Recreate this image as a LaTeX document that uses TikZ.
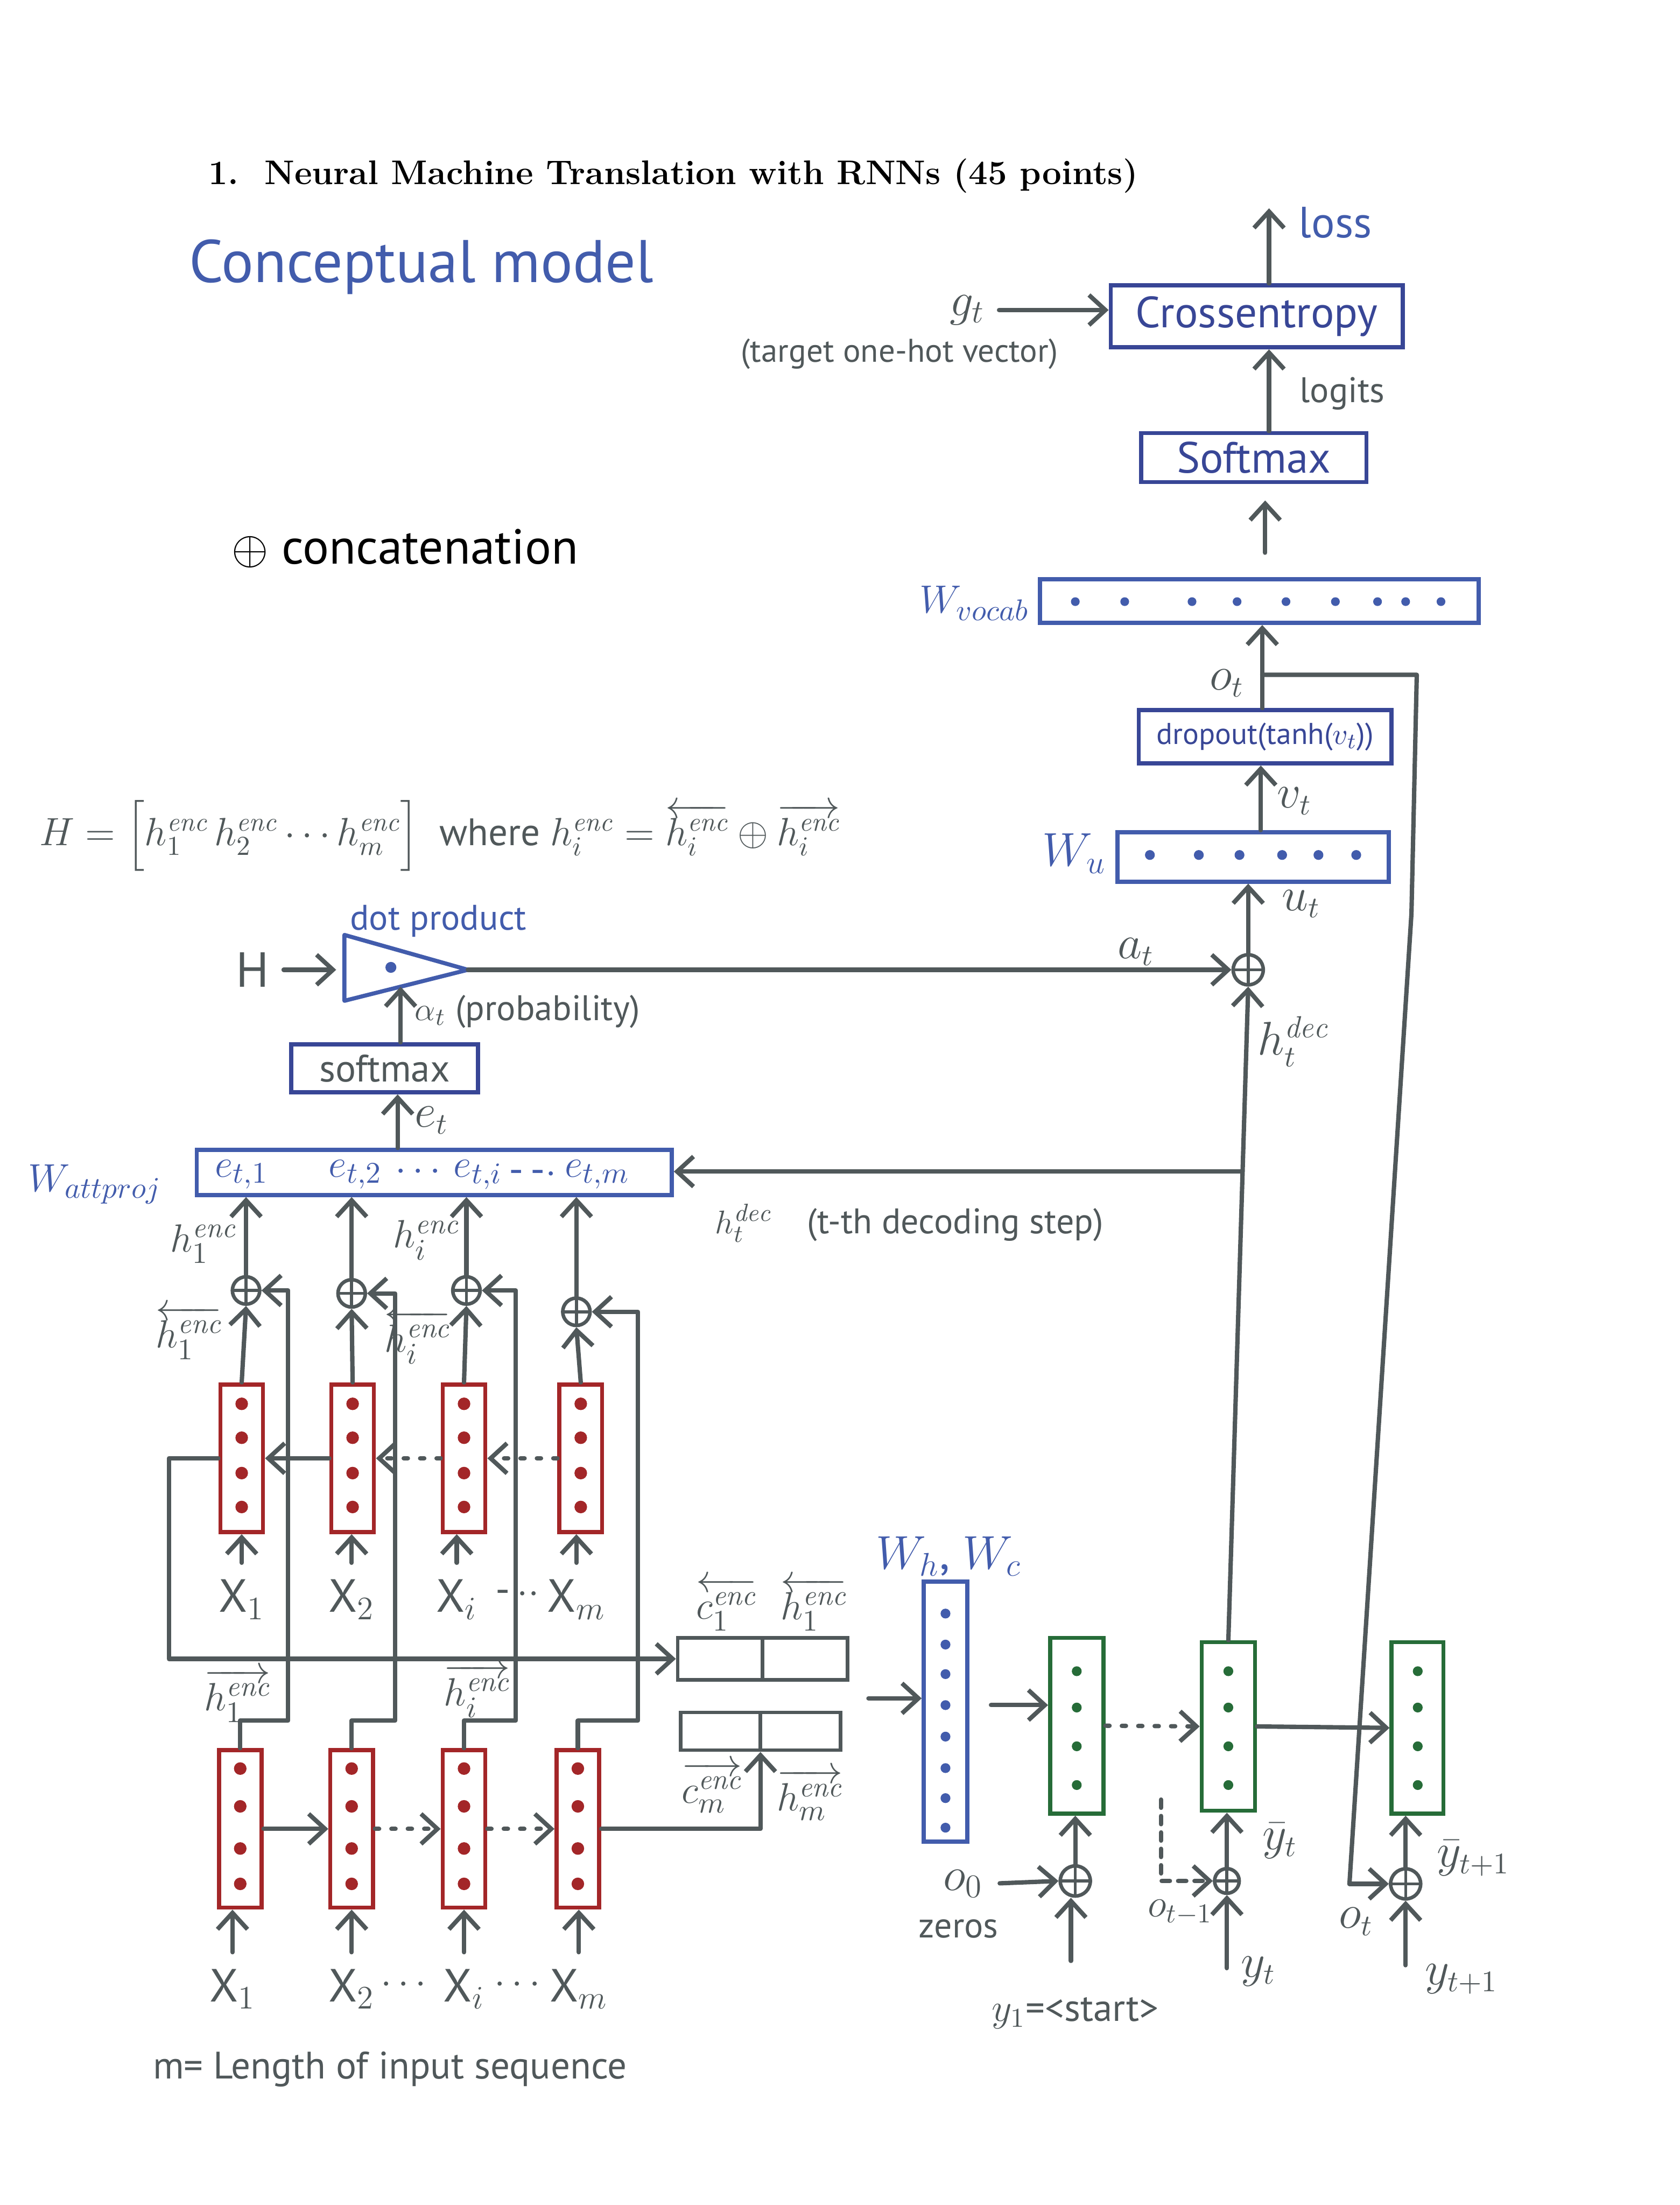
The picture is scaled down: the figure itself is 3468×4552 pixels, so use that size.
\documentclass[tikz,border=0pt]{standalone}
\usepackage{fontspec}
\usepackage{amsmath}
\usetikzlibrary{arrows.meta,fit,calc}
\newfontfamily\hand{PT Sans}
\definecolor{lgray}{RGB}{80,88,90}
\definecolor{hblue}{RGB}{66,92,172}
\definecolor{dblue}{RGB}{56,70,150}
\definecolor{cred}{RGB}{163,38,40}
\definecolor{cgreen}{RGB}{38,108,56}
\newcommand{\enc}{\mathit{enc}}
\newcommand{\dec}{\mathit{dec}}
\newcommand{\lh}[1]{\overleftarrow{#1}}
\newcommand{\rh}[1]{\overrightarrow{#1}}
\begin{document}
\begin{tikzpicture}[x=0.00622cm,y=-0.00622cm,
  wire/.style={draw=lgray,line width=1.6pt,line cap=round,line join=round},
  arr/.style={wire,-{Straight Barb[length=6pt,width=11pt]}},
  dotarr/.style={arr,dash pattern=on 1.5pt off 4.5pt},
  ht/.style={font=\hand\fontsize{#1}{#1}\selectfont,inner sep=1pt,text=lgray},
  bbox/.style={draw=hblue,line width=1.5pt,inner sep=0pt},
  dbox/.style={draw=dblue,line width=1.5pt,inner sep=0pt},
  rcell/.style={draw=cred,line width=1.5pt,inner sep=0pt},
  gcell/.style={draw=cgreen,line width=1.5pt,inner sep=0pt},
  cbox/.style={draw=lgray,line width=1.3pt,inner sep=0pt},
  oplus/.style={circle,draw=lgray,line width=1.3pt,minimum size=#1,inner sep=0pt,
    path picture={\draw[lgray,line width=1.1pt]
      (path picture bounding box.north)--(path picture bounding box.south)
      (path picture bounding box.west)--(path picture bounding box.east);}},
  oplus/.default=10pt
]
\useasboundingbox (0,0) rectangle (3468,4552);

% title and headings
\node[anchor=west,inner sep=0pt,font=\fontsize{12.5}{15}\selectfont\bfseries] (title) at (430,363) {1.\ \ Neural Machine Translation with RNNs (45 points)};
\node[ht=22,text=hblue] (concept) at (870,551) {Conceptual model};
\node[ht=18,text=black] (concat) at (836,1132) {$\oplus$ concatenation};

% output head
\node[dbox,fit={(2293,589) (2896,717)}] (cross) {};
\node[ht=16,text=dblue] (crosst) at (cross.center) {Crossentropy};
\coordinate (lossend) at (2620,430);
\draw[arr] (cross.north -| lossend) -- (lossend);
\node[ht=16,text=hblue] (loss) at (2757,459) {loss};
\node[ht=18] (gt) at (1997,640) {$g_t$};
\draw[arr,shorten <=4pt] (gt.east) -- (gt.east -| cross.west);
\node[ht=12] (tgt) at (1857,731) {(target one-hot vector)};
\node[dbox,fit={(2356,894) (2821,995)}] (smax) {};
\node[ht=16,text=dblue] (smaxt) at (smax.center) {Softmax};
\coordinate (colL) at (2620,0);
\draw[arr] (smax.north -| colL) -- (cross.south -| colL);
\node[ht=13] (logits) at (2771,813) {logits};
\node[bbox,fit={(2147,1196) (3053,1286)}] (vocab) {};
\foreach \x in {2220,2322,2461,2554,2655,2757,2844,2902,2975} \fill[hblue] (\x,1242) circle (1.6pt);
\node[ht=15,text=hblue,anchor=east] (wvocab) at (2132,1245) {$W_{vocab}$};
\coordinate (colV) at (2612,0);
\draw[arr,shorten <=9pt,shorten >=6pt] (vocab.north -| colV) -- (smax.south -| colV);
\node[dbox,fit={(2351,1466) (2873,1576)}] (drop) {};
\node[ht=11,text=dblue] (dropt) at (drop.center) {dropout(tanh($v_t$))};
\coordinate (colD) at (2606,0);
\draw[arr] (drop.north -| colD) -- (vocab.south -| colD);
\node[ht=16] (ot) at (2533,1410) {$o_t$};
\coordinate (obr) at (2606,1393);
\coordinate (oR1) at (2925,1393);
\coordinate (oR2) at (2914,1886);
\coordinate (oR3) at (2786,3889);
\draw[wire] (obr) -- (oR1) -- (oR2) -- (oR3);
\node[bbox,fit={(2307,1718) (2867,1820)}] (wu) {};
\foreach \x in {2374,2475,2559,2647,2722,2800} \fill[hblue] (\x,1765) circle (1.8pt);
\node[ht=17,text=hblue,anchor=east] (wul) at (2290,1762) {$W_u$};
\coordinate (colU) at (2603,0);
\draw[arr] (wu.north -| colU) -- (drop.south -| colU);
\node[ht=16,anchor=west] (vt) at (2630,1654) {$v_t$};
\node[oplus=11pt] (pm) at (2577,2002) {};
\draw[arr] (pm.north) -- (pm.north |- wu.south);
\node[ht=16,anchor=west] (ut) at (2640,1866) {$u_t$};

% attention
\node[ht=14] (eqH) at (908,1725) {$H=\Big[h_1^{\enc}\,h_2^{\enc}\cdots h_m^{\enc}\Big]$\ \ where $h_i^{\enc}=\lh{h_i^{\enc}}\oplus\rh{h_i^{\enc}}$};
\coordinate (tA) at (711,1930);
\coordinate (tB) at (711,2066);
\coordinate (tip) at (966,2002);
\coordinate (tL) at (711,2002);
\draw[draw=hblue,line width=1.5pt,line join=round] (tA) -- (tip) -- (tB) -- cycle;
\fill[hblue] (807,1997) circle (2pt);
\node[ht=13,text=hblue] (dotp) at (905,1901) {dot product};
\node[ht=18] (Hn) at (522,2002) {H};
\draw[arr,shorten <=4pt,shorten >=3pt] (Hn.east) -- (tL);
\draw[arr] (tip) -- (pm.west);
\node[ht=16] (atl) at (2345,1965) {$a_t$};
\node[dbox,fit={(601,2156) (987,2255)}] (asmax) {};
\node[ht=14] (asmaxt) at (asmax.center) {softmax};
\coordinate (alphaend) at ($(tB)!0.455!(tip)$);
\draw[arr] (asmax.north -| alphaend) -- (alphaend);
\node[ht=13,anchor=west] (alpha) at (850,2088) {$\alpha_t$ (probability)};
\node[bbox,fit={(406,2374) (1387,2467)}] (attproj) {};
\node[ht=15,text=hblue,anchor=east] (watt) at (340,2445) {$W_{attproj}$};
\node[ht=15,text=hblue] (e1) at (499,2425) {$e_{t,1}$};
\node[ht=15,text=hblue] (e2) at (734,2425) {$e_{t,2}$};
\node[ht=15,text=hblue] (edots1) at (870,2420) {$\cdots$};
\node[ht=15,text=hblue] (ei) at (987,2425) {$e_{t,i}$};
\node[ht=15,text=hblue] (edots2) at (1100,2425) {-\,-$\cdot$};
\node[ht=15,text=hblue] (em) at (1233,2425) {$e_{t,m}$};
\coordinate (colE) at (821,0);
\draw[arr] (attproj.north -| colE) -- (asmax.south -| colE);
\node[ht=16,anchor=west] (etl) at (850,2313) {$e_t$};

% encoder
\foreach \i/\x in {1/499,2/728,3/958,4/1199}{
  \node[rcell,fit={(\x-44,2858) (\x+44,3163)}] (u\i) {};
  \foreach \y in {2898,2968,3041,3111} \fill[cred] (\x,\y) circle (2.3pt);
}
\foreach \i/\x in {1/496,2/726,3/958,4/1193}{
  \node[rcell,fit={(\x-44,3613) (\x+44,3938)}] (l\i) {};
  \foreach \y in {3651,3729,3816,3889} \fill[cred] (\x,\y) circle (2.3pt);
}
\foreach \i/\x/\y in {1/508/2664,2/726/2670,3/963/2664,4/1190/2708}{
  \node[oplus=10pt] (p\i) at (\x,\y) {};
  \draw[arr] (u\i.north) -- (p\i.south);
  \draw[arr] (p\i.north) -- (p\i.north |- attproj.south);
}
\draw[arr] (u2.west) -- (u1.east);
\draw[dotarr] (u3.west) -- (u2.east);
\draw[dotarr] (u4.west) -- (u3.east);
\node[cbox,fit={(1399,3381) (1750,3468)}] (tcat) {};
\draw[lgray,line width=1.3pt] (tcat.north) -- (tcat.south);
\node[cbox,fit={(1405,3535) (1735,3613)}] (bcat) {};
\draw[lgray,line width=1.3pt] (bcat.north) -- (bcat.south);
\draw[arr] (u1.west) -- ++(-102,0) |- (tcat.west);
\draw[arr] (l1.east) -- (l2.west);
\draw[dotarr] (l2.east) -- (l3.west);
\draw[dotarr] (l3.east) -- (l4.west);
\draw[arr] (l4.east) -| (bcat.south);
\foreach \i/\w in {1/595,2/816,3/1065,4/1317}{
  \draw[arr] (l\i.north) |- (\w,3552) |- (p\i.east);
}
\node[ht=15] (hb1) at (390,2751) {$\lh{h_1^{\enc}}$};
\node[ht=15] (hbi) at (862,2760) {$\lh{h_i^{\enc}}$};
\node[ht=15] (h1) at (420,2568) {$h_1^{\enc}$};
\node[ht=15] (hi) at (880,2560) {$h_i^{\enc}$};
\node[ht=15] (hf1) at (490,3500) {$\rh{h_1^{\enc}}$};
\node[ht=15] (hfi) at (985,3490) {$\rh{h_i^{\enc}}$};
\node[ht=15] (cb1) at (1500,3312) {$\lh{c_1^{\enc}}$};
\node[ht=15] (hb1c) at (1680,3312) {$\lh{h_1^{\enc}}$};
\node[ht=15] (cfm) at (1470,3690) {$\rh{c_m^{\enc}}$};
\node[ht=15] (hfm) at (1672,3705) {$\rh{h_m^{\enc}}$};
\foreach \i/\x/\s in {1/499/1,2/726/2,3/943/i,4/1190/m}{
  \node[ht=17] (xu\i) at (\x,3302) {X$_{\s}$};
  \draw[arr,shorten <=5pt] (xu\i.north) -- (xu\i.north |- u\i.south);
}
\node[ht=15] (dd1) at (1068,3292) {-\,$\cdot\cdot$};
\foreach \i/\x/\s in {1/480/1,2/726/2,3/958/i,4/1195/m}{
  \node[ht=17] (xl\i) at (\x,4106) {X$_{\s}$};
  \draw[arr,shorten <=5pt] (xl\i.north) -- (xl\i.north |- l\i.south);
}
\node[ht=14] (dd2) at (840,4098) {$\cdots$};
\node[ht=14] (dd3) at (1075,4098) {$\cdots$};
\node[ht=14] (mlen) at (805,4272) {m= Length of input sequence};

% decoder
\node[bbox,fit={(1907,3265) (1997,3802)}] (wbox) {};
\foreach \y in {3331,3395,3456,3520,3585,3650,3712,3773} \fill[hblue] (1952,\y) circle (1.8pt);
\node[ht=17,text=hblue] (whc) at (1959,3213) {$W_h$, $W_c$};
\coordinate (cin) at (1793,3506);
\draw[arr] (cin) -- (cin -| wbox.west);
\node[gcell,fit={(2168,3381) (2278,3744)}] (g1) {};
\node[gcell,fit={(2481,3390) (2591,3738)}] (gct) {};
\node[gcell,fit={(2873,3390) (2980,3744)}] (gn) {};
\foreach \x in {2223,2536,2927} \foreach \y in {3450,3525,3605,3685} \fill[cgreen] (\x,\y) circle (1.8pt);
\coordinate (wo) at (2046,3520);
\draw[arr] (wo) -- (wo -| g1.west);
\draw[dotarr] (g1.east) -- (gct.west);
\draw[arr] (gct.east) -- (gn.west);
\node[oplus=11pt] (q1) at (2220,3883) {};
\node[oplus=9pt] (qt) at (2533,3883) {};
\node[oplus=11pt] (qn) at (2902,3889) {};
\draw[arr] (q1.north) -- (q1.north |- g1.south);
\draw[arr] (qt.north) -- (qt.north |- gct.south);
\draw[arr] (qn.north) -- (qn.north |- gn.south);
\node[ht=17] (o0) at (1988,3889) {$o_0$};
\draw[arr,shorten <=5pt] (o0.east) -- (q1.west);
\node[ht=13] (zeros) at (1979,3982) {zeros};
\node[ht=14] (y1) at (2220,4156) {$y_1$=<start>};
\coordinate (y1in) at (2211,4048);
\draw[arr] (y1in) -- (y1in |- q1.south);
\coordinate (dsh) at (2397,3715);
\draw[arr,dashed] (dsh) |- (qt.west);
\node[ht=14,anchor=north east] (otm1) at (2510,3915) {$o_{t-1}$};
\coordinate (ytin) at (2533,4063);
\draw[arr] (ytin) -- (qt.south);
\node[ht=16,anchor=west] (ytl) at (2555,4070) {$y_t$};
\node[ht=16,anchor=west] (ybt) at (2600,3800) {$\bar{y}_t$};
\draw[arr] (oR3) -- (qn.west);
\node[ht=16] (otb) at (2800,3967) {$o_t$};
\coordinate (yt1in) at (2902,4057);
\draw[arr] (yt1in) -- (qn.south);
\node[ht=16,anchor=west] (yt1l) at (2935,4086) {$y_{t+1}$};
\node[ht=16,anchor=west] (ybt1) at (2960,3836) {$\bar{y}_{t+1}$};

% decoder state to attention
\draw[arr] (gct.north) -- (pm.south);
\coordinate (hbr) at ($(gct.north)!0.717!(pm.south)$);
\draw[arr] (hbr) -- (hbr -| attproj.east);
\node[ht=16,anchor=west] (hdec1) at (2590,2150) {$h_t^{\dec}$};
\node[ht=13,anchor=west] (hdec2) at (1470,2525) {$h_t^{\dec}$\quad(t-th decoding step)};
\end{tikzpicture}
\end{document}
